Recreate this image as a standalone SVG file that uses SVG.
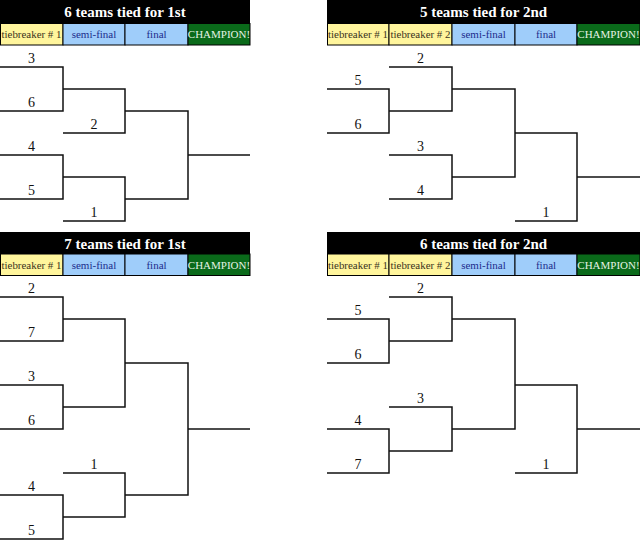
<svg xmlns="http://www.w3.org/2000/svg" width="640" height="542" viewBox="0 0 640 542">
<style>
.bg{fill:#ffffff}
.bar{fill:#000000}
.title{font-family:"Liberation Serif",Georgia,serif;font-weight:bold;font-size:15px;fill:#ffffff;text-anchor:middle}
.cell{stroke:#000;stroke-width:1}
.tb{fill:#fff59c}
.rd{fill:#9fcdfa}
.ch{fill:#0a6a1a}
.ct{font-family:"Liberation Serif",Georgia,serif;font-size:11px;text-anchor:middle}
.ttb{fill:#3a3320}
.trd{fill:#1c2c8c}
.tch{fill:#e4f2e4}
.ln{fill:none;stroke:#111;stroke-width:1.5}
.num{font-family:"Liberation Serif",Georgia,serif;font-size:14px;fill:#111;text-anchor:middle}
</style>
<rect class="bg" x="0" y="0" width="640" height="542"/>

<g id="panel-6-1st">
  <g id="header-6-1st">
    <rect class="bar" x="0" y="0" width="250" height="23"/>
    <text class="title" x="125" y="17">6 teams tied for 1st</text>
    <rect class="cell tb" x="0.5" y="23.5" width="62.5" height="21.5"/>
    <rect class="cell rd" x="63" y="23.5" width="62" height="21.5"/>
    <rect class="cell rd" x="125" y="23.5" width="63" height="21.5"/>
    <rect class="cell ch" x="188" y="23.5" width="62" height="21.5"/>
    <text class="ct ttb" x="31.5" y="38" textLength="60" lengthAdjust="spacingAndGlyphs">tiebreaker # 1</text>
    <text class="ct trd" x="94" y="38">semi-final</text>
    <text class="ct trd" x="156.5" y="38">final</text>
    <text class="ct tch" x="219" y="38">CHAMPION!</text>
  </g>
  <g id="connectors-6-1st">
    <path class="ln" d="M0 67H63V111H0"/>
    <path class="ln" d="M63 89H125V133H63"/>
    <path class="ln" d="M125 111H188V199H125"/>
    <path class="ln" d="M188 155H250"/>
    <path class="ln" d="M0 155H63V199H0"/>
    <path class="ln" d="M63 177H125V221H63"/>
  </g>
  <g id="labels-6-1st">
    <text class="num" x="31.5" y="63">3</text>
    <text class="num" x="31.5" y="107">6</text>
    <text class="num" x="94" y="129">2</text>
    <text class="num" x="31.5" y="151">4</text>
    <text class="num" x="31.5" y="195">5</text>
    <text class="num" x="94" y="217">1</text>
  </g>
</g>

<g id="panel-5-2nd">
  <g id="header-5-2nd">
    <rect class="bar" x="327" y="0" width="313" height="23"/>
    <text class="title" x="483.5" y="17">5 teams tied for 2nd</text>
    <rect class="cell tb" x="327.5" y="23.5" width="61.5" height="21.5"/>
    <rect class="cell tb" x="389" y="23.5" width="63" height="21.5"/>
    <rect class="cell rd" x="452" y="23.5" width="63" height="21.5"/>
    <rect class="cell rd" x="515" y="23.5" width="62" height="21.5"/>
    <rect class="cell ch" x="577" y="23.5" width="63" height="21.5"/>
    <text class="ct ttb" x="358" y="38" textLength="60" lengthAdjust="spacingAndGlyphs">tiebreaker # 1</text>
    <text class="ct ttb" x="420.5" y="38" textLength="60" lengthAdjust="spacingAndGlyphs">tiebreaker # 2</text>
    <text class="ct trd" x="483.5" y="38">semi-final</text>
    <text class="ct trd" x="546" y="38">final</text>
    <text class="ct tch" x="608.5" y="38">CHAMPION!</text>
  </g>
  <g id="connectors-5-2nd">
    <path class="ln" d="M389 67H452V111H389"/>
    <path class="ln" d="M327 89H389V133H327"/>
    <path class="ln" d="M452 89H515V177H452"/>
    <path class="ln" d="M389 155H452V199H389"/>
    <path class="ln" d="M515 133H577V221H515"/>
    <path class="ln" d="M577 177H640"/>
  </g>
  <g id="labels-5-2nd">
    <text class="num" x="420.5" y="63">2</text>
    <text class="num" x="358" y="85">5</text>
    <text class="num" x="358" y="129">6</text>
    <text class="num" x="420.5" y="151">3</text>
    <text class="num" x="420.5" y="195">4</text>
    <text class="num" x="546" y="217">1</text>
  </g>
</g>

<g id="panel-7-1st">
  <g id="header-7-1st">
    <rect class="bar" x="0" y="232" width="250" height="22"/>
    <text class="title" x="125" y="249">7 teams tied for 1st</text>
    <rect class="cell tb" x="0.5" y="254" width="62.5" height="21.5"/>
    <rect class="cell rd" x="63" y="254" width="62" height="21.5"/>
    <rect class="cell rd" x="125" y="254" width="63" height="21.5"/>
    <rect class="cell ch" x="188" y="254" width="62" height="21.5"/>
    <text class="ct ttb" x="31.5" y="269" textLength="60" lengthAdjust="spacingAndGlyphs">tiebreaker # 1</text>
    <text class="ct trd" x="94" y="269">semi-final</text>
    <text class="ct trd" x="156.5" y="269">final</text>
    <text class="ct tch" x="219" y="269">CHAMPION!</text>
  </g>
  <g id="connectors-7-1st">
    <path class="ln" d="M0 297H63V341H0"/>
    <path class="ln" d="M63 319H125V407H63"/>
    <path class="ln" d="M0 385H63V429H0"/>
    <path class="ln" d="M125 363H188V495H125"/>
    <path class="ln" d="M188 429H250"/>
    <path class="ln" d="M63 473H125V517H63"/>
    <path class="ln" d="M0 495H63V539H0"/>
  </g>
  <g id="labels-7-1st">
    <text class="num" x="31.5" y="293">2</text>
    <text class="num" x="31.5" y="337">7</text>
    <text class="num" x="31.5" y="381">3</text>
    <text class="num" x="31.5" y="425">6</text>
    <text class="num" x="94" y="469">1</text>
    <text class="num" x="31.5" y="491">4</text>
    <text class="num" x="31.5" y="535">5</text>
  </g>
</g>

<g id="panel-6-2nd">
  <g id="header-6-2nd">
    <rect class="bar" x="327" y="232" width="313" height="22"/>
    <text class="title" x="483.5" y="249">6 teams tied for 2nd</text>
    <rect class="cell tb" x="327.5" y="254" width="61.5" height="21.5"/>
    <rect class="cell tb" x="389" y="254" width="63" height="21.5"/>
    <rect class="cell rd" x="452" y="254" width="63" height="21.5"/>
    <rect class="cell rd" x="515" y="254" width="62" height="21.5"/>
    <rect class="cell ch" x="577" y="254" width="63" height="21.5"/>
    <text class="ct ttb" x="358" y="269" textLength="60" lengthAdjust="spacingAndGlyphs">tiebreaker # 1</text>
    <text class="ct ttb" x="420.5" y="269" textLength="60" lengthAdjust="spacingAndGlyphs">tiebreaker # 2</text>
    <text class="ct trd" x="483.5" y="269">semi-final</text>
    <text class="ct trd" x="546" y="269">final</text>
    <text class="ct tch" x="608.5" y="269">CHAMPION!</text>
  </g>
  <g id="connectors-6-2nd">
    <path class="ln" d="M389 297H452V341H389"/>
    <path class="ln" d="M327 319H389V363H327"/>
    <path class="ln" d="M452 319H515V429H452"/>
    <path class="ln" d="M389 407H452V451H389"/>
    <path class="ln" d="M327 429H389V473H327"/>
    <path class="ln" d="M515 385H577V473H515"/>
    <path class="ln" d="M577 429H640"/>
  </g>
  <g id="labels-6-2nd">
    <text class="num" x="420.5" y="293">2</text>
    <text class="num" x="358" y="315">5</text>
    <text class="num" x="358" y="359">6</text>
    <text class="num" x="420.5" y="403">3</text>
    <text class="num" x="358" y="425">4</text>
    <text class="num" x="358" y="469">7</text>
    <text class="num" x="546" y="469">1</text>
  </g>
</g>
</svg>
